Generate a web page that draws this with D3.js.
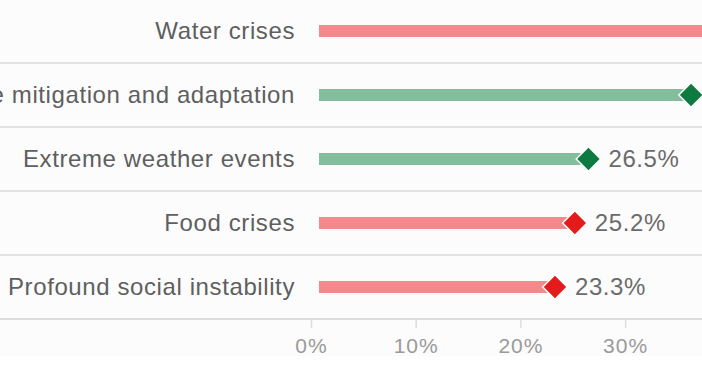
<!DOCTYPE html>
<html><head><meta charset="utf-8">
<script src="https://cdn.jsdelivr.net/npm/d3@7"></script>
<style>
html,body{margin:0;padding:0;background:#ffffff;}
svg{display:block;}
</style></head>
<body>
<svg id="chart" width="702" height="368"></svg>
<script>
const categories = ["Water crises","Failure of climate change mitigation and adaptation","Extreme weather events","Food crises","Profound social instability"];
const values = [39.8, 36.3, 26.5, 25.2, 23.3];
const groups = ["red","green","green","red","red"];
const tickValues = [0, 10, 20, 30];
const tickLabels = ["0%","10%","20%","30%"];

const barColor = {red:"#f2898a", green:"#84bd9c"};
const dotColor = {red:"#e31b1b", green:"#0d7a40"};
const FONT = "Liberation Sans, Arial, Helvetica, sans-serif";

const svg = d3.select("#chart");
const W = 702, H = 368;
svg.append("rect").attr("x",0).attr("y",0).attr("width",W).attr("height",356).attr("fill","#fbfcfb");

const x = d3.scaleLinear().domain([0, 40]).range([311, 311 + 40*10.47]);
const y = d3.scaleBand().domain(categories).range([-1, 319]).padding(0);

// row separators
svg.append("g").selectAll("line").data(categories).join("line")
  .attr("x1",0).attr("x2",W)
  .attr("y1",d=>y(d)).attr("y2",d=>y(d))
  .attr("stroke","#e2e4e2").attr("stroke-width",2);

// axis
const axis = d3.axisBottom(x).tickValues(tickValues).tickFormat((d,i)=>tickLabels[i]).tickSize(9).tickPadding(10);
const ag = svg.append("g").attr("transform","translate(0,319)").call(axis);
ag.select(".domain").remove();
ag.insert("line",":first-child").attr("x1",0).attr("x2",W).attr("y1",0).attr("y2",0).attr("stroke","#dcdedc").attr("stroke-width",2);
ag.selectAll(".tick line").attr("stroke","#dcdedc").attr("stroke-width",1.5);
ag.selectAll(".tick text").attr("fill","#9a9a9a").attr("font-family",FONT).attr("font-size",21).attr("letter-spacing","1px");

const rows = svg.append("g").selectAll("g").data(categories).join("g")
  .attr("transform",d=>`translate(0,${y(d)+y.bandwidth()/2})`);

rows.append("text").attr("x",295).attr("y",0).attr("dy","0.35em")
  .attr("text-anchor","end").attr("fill","#5f5f5f")
  .attr("font-family",FONT).attr("font-size",24).attr("letter-spacing","0.6px")
  .text(d=>d);

rows.append("rect")
  .attr("x",x(0)+8).attr("y",-6)
  .attr("width",(d,i)=>Math.max(0,x(values[i])-x(0)-8)).attr("height",12)
  .attr("fill",(d,i)=>barColor[groups[i]]);

const diamond = d3.symbol().type(d3.symbolSquare).size(300);
rows.append("path")
  .attr("d",diamond)
  .attr("transform",(d,i)=>`translate(${x(values[i])},0) rotate(45)`)
  .attr("fill",(d,i)=>dotColor[groups[i]])
  .attr("stroke","#ffffff").attr("stroke-width",1.5);

rows.append("text")
  .attr("x",(d,i)=>x(values[i])+20).attr("y",0).attr("dy","0.35em")
  .attr("fill","#6b6b6b")
  .attr("font-family",FONT).attr("font-size",24).attr("letter-spacing","0.6px")
  .text((d,i)=>values[i].toFixed(1)+"%");
</script>
</body></html>
